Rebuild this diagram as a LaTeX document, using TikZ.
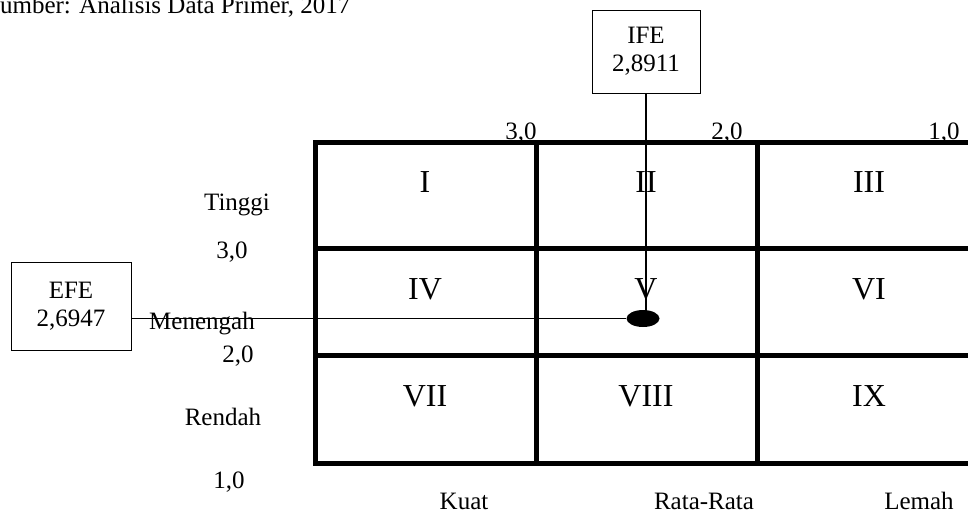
\documentclass[tikz,border=0pt]{standalone}
\usepackage{fontspec}
\setmainfont{Liberation Serif}
\usetikzlibrary{shapes.geometric}
\begin{document}
\begin{tikzpicture}[x=1pt,y=-1pt,
  lbl/.style={inner sep=0pt, anchor=base, font=\fontsize{25}{28}\selectfont},
  roman/.style={inner sep=0pt, anchor=base, font=\fontsize{32}{36}\selectfont},
  valbox/.style={draw, line width=1pt, inner sep=0pt, align=center, font=\fontsize{25}{28}\selectfont},
  gridline/.style={line width=5pt},
  conn/.style={line width=1.4pt}]
\useasboundingbox (0,0) rectangle (968,515);
% source line
\node[inner sep=0pt, anchor=base west, font=\fontsize{25}{28}\selectfont] (src) at (-14,13) {Sumber: Analisis Data Primer, 2017};
% grid
\draw[gridline, line join=miter] (985,142) -- (315,142) -- (315,463) -- (985,463);
\draw[gridline] (315,248) -- (985,248);
\draw[gridline] (315,355) -- (985,355);
\draw[gridline] (536,142) -- (536,463);
\draw[gridline] (757,142) -- (757,463);
% top scale
\node[lbl] (t3) at (521,139) {3,0};
\node[lbl] (t2) at (727,139) {2,0};
\node[lbl] (t1) at (944,139) {1,0};
% roman numerals
\node[roman] (c1) at (425,192) {I};
\node[roman] (c2) at (646,192) {II};
\node[roman] (c3) at (869,192) {III};
\node[roman] (c4) at (425,299) {IV};
\node[roman] (c5) at (646,299) {V};
\node[roman] (c6) at (869,299) {VI};
\node[roman] (c7) at (425,406) {VII};
\node[roman] (c8) at (646,406) {VIII};
\node[roman] (c9) at (869,406) {IX};
% left scale
\node[lbl] (tinggi) at (237,210) {Tinggi};
\node[lbl] (l3) at (232,258) {3,0};
\node[lbl] (menengah) at (202,329) {Menengah};
\node[lbl] (l2) at (238,362) {2,0};
\node[lbl] (rendah) at (223,425) {Rendah};
\node[lbl] (l1) at (229,488) {1,0};
% bottom scale
\node[lbl] (kuat) at (464,509) {Kuat};
\node[lbl] (rata) at (704,509) {Rata-Rata};
\node[lbl] (lemah) at (919,509) {Lemah};
% value boxes
\node[valbox, minimum width=108pt, minimum height=83pt] (ife) at (646,51.5) {IFE\\2,8911};
\node[valbox, minimum width=120pt, minimum height=88pt] (efe) at (71,306) {EFE\\2,6947};
% point
\node[ellipse, fill=black, minimum width=33pt, minimum height=17pt, inner sep=0pt] (dot) at (643,318.5) {};
% connectors
\draw[conn] (ife.south) -- (ife.south |- dot.north);
\draw[conn] (efe.east |- dot.west) -- (dot.west);
\end{tikzpicture}
\end{document}
